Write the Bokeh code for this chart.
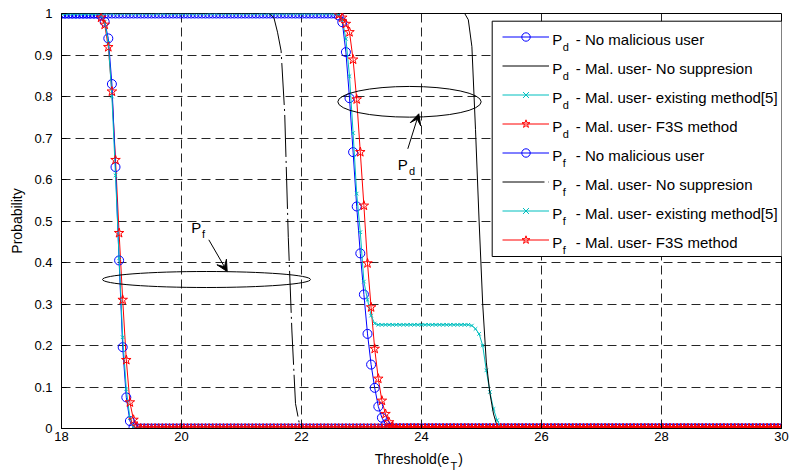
import numpy as np
from bokeh.plotting import figure
from bokeh.models import (Range1d, FixedTicker, CustomJSTickFormatter, Legend, LegendItem,
                          BoxAnnotation, Label, Arrow, VeeHead, ColumnDataSource, CDSView,
                          BooleanFilter, LinearAxis)
from bokeh.embed import file_html
from bokeh.resources import INLINE

# ---------------- data ----------------
X_MIN, X_MAX, N_POINTS = 18.0, 30.0, 201          # threshold sampling grid (step 0.06)
threshold = np.linspace(X_MIN, X_MAX, N_POINTS)

# Probability of detection, P_d
pd_no_malicious = ([1.0] * 77 +
                   [0.995, 0.979, 0.907, 0.796, 0.666, 0.535, 0.422, 0.323, 0.228, 0.154,
                    0.098, 0.053, 0.026, 0.010, 0.002] +
                   [0.0] * 109)
pd_no_suppression = ([1.0] * 113 +
                     [0.985, 0.92, 0.72, 0.50, 0.30, 0.16, 0.085, 0.035, 0.006] +
                     [0.0] * 79)
pd_existing = ([1.0] * 77 +
               [0.997, 0.985, 0.939, 0.849, 0.712, 0.566, 0.473, 0.354, 0.31, 0.272, 0.253] +
               [0.25] * 26 +
               [0.248, 0.24, 0.228, 0.20, 0.14, 0.088, 0.047, 0.02, 0.004] +
               [0.0] * 78)
pd_f3s = ([1.0] * 77 +
          [0.997, 0.99, 0.975, 0.955, 0.889, 0.793, 0.666, 0.537, 0.398, 0.292, 0.192,
           0.12, 0.067, 0.035, 0.015, 0.004] +
          [0.0] * 108)

# Probability of false alarm, P_f
pf_no_malicious = ([1.0] * 11 +
                   [0.995, 0.98, 0.94, 0.83, 0.63, 0.405, 0.196, 0.075, 0.018, 0.003] +
                   [0.0] * 180)
pf_no_suppression = ([1.0] * 58 +
                     [0.998, 0.99, 0.955, 0.91, 0.76, 0.46, 0.235, 0.06, 0.015] +
                     [0.0] * 134)
pf_existing = ([1.0] * 11 +
               [0.995, 0.98, 0.93, 0.80, 0.61, 0.41, 0.22, 0.095, 0.025, 0.004] +
               [0.0] * 180)
pf_f3s = ([1.0] * 11 +
          [0.99, 0.973, 0.919, 0.812, 0.647, 0.471, 0.31, 0.165, 0.063, 0.021, 0.005] +
          [0.0] * 179)

x_ticks = [18, 20, 22, 24, 26, 28, 30]
y_ticks = [0, 0.1, 0.2, 0.3, 0.4, 0.5, 0.6, 0.7, 0.8, 0.9, 1]

legend_subs = ["d", "d", "d", "d", "f", "f", "f", "f"]
legend_texts = ["- No malicious user", "- Mal. user- No suppresion",
                "- Mal. user- existing method[5]", "- Mal. user- F3S method",
                "- No malicious user", "- Mal. user- No suppresion",
                "- Mal. user- existing method[5]", "- Mal. user- F3S method"]

# ---------------- styling ----------------
FONT = "Liberation Sans"
BLUE, BLACK, CYAN, RED = "#0000ff", "#000000", "#00bfbf", "#ff0000"

# frame position in the 791x475 page (used to place annotations)
FR_L, FR_R, FR_T, FR_B = 61.0, 781.0, 13.0, 428.0


def px2x(px):
    return X_MIN + (px - FR_L) * (X_MAX - X_MIN) / (FR_R - FR_L)


def py2y(py):
    return (FR_B - py) / (FR_B - FR_T)


p = figure(width=791, height=475, x_range=Range1d(X_MIN, X_MAX), y_range=Range1d(0, 1),
           output_backend="svg", toolbar_location=None,
           min_border_left=61, min_border_right=10, min_border_top=13, min_border_bottom=47)
p.background_fill_color = "white"
p.border_fill_color = "white"
p.outline_line_color = "black"
p.outline_line_width = 1
p.outline_line_alpha = 1

p.xaxis.ticker = FixedTicker(ticks=x_ticks)
p.yaxis.ticker = FixedTicker(ticks=y_ticks)
p.yaxis.formatter = CustomJSTickFormatter(code="return String(Math.round(tick*10)/10);")
for ax in (p.xaxis, p.yaxis):
    ax.major_tick_in = 5
    ax.major_tick_out = 0
    ax.minor_tick_in = 0
    ax.minor_tick_out = 0
    ax.axis_line_color = "black"
    ax.major_tick_line_color = "black"
    ax.major_label_text_font = FONT
    ax.major_label_text_font_size = "13px"
    ax.major_label_text_color = "black"
p.xaxis.major_label_standoff = 3
p.yaxis.major_label_standoff = 9
p.yaxis.axis_label = "Probability"
p.yaxis.axis_label_text_font = FONT
p.yaxis.axis_label_text_font_size = "14px"
p.yaxis.axis_label_text_font_style = "normal"
p.yaxis.axis_label_text_color = "black"
p.yaxis.axis_label_standoff = 6

for g in (p.xgrid, p.ygrid):
    g.grid_line_color = "black"
    g.grid_line_alpha = 0.85
    g.grid_line_dash = "9 5"
    g.grid_line_width = 1


# x-axis title "Threshold(e_T)": two label-only axes stacked under the main x axis
def label_axis(ticks, texts, size, standoff):
    ax = LinearAxis(ticker=FixedTicker(ticks=ticks),
                    formatter=CustomJSTickFormatter(args=dict(labels=texts),
                                                    code="return labels[index];"))
    ax.axis_line_alpha = 0
    ax.major_tick_line_alpha = 0
    ax.minor_tick_line_alpha = 0
    ax.major_tick_in = 0
    ax.major_tick_out = 0
    ax.minor_tick_in = 0
    ax.minor_tick_out = 0
    ax.major_label_text_font = FONT
    ax.major_label_text_font_size = size
    ax.major_label_text_color = "black"
    ax.major_label_standoff = standoff
    p.add_layout(ax, "below")


label_axis([px2x(411.5), px2x(460.0)], ["Threshold(e", ")"], "14px", 7)
label_axis([px2x(453.3)], ["T"], "11px", -10)


# ---------------- series ----------------
def src(vals):
    return ColumnDataSource(dict(x=threshold, y=vals))


s_pd_nm, s_pd_ns, s_pd_ex, s_pd_f3 = map(src, (pd_no_malicious, pd_no_suppression,
                                               pd_existing, pd_f3s))
s_pf_nm, s_pf_ns, s_pf_ex, s_pf_f3 = map(src, (pf_no_malicious, pf_no_suppression,
                                               pf_existing, pf_f3s))

# red lines beneath everything
r_pd_f3_line = p.line("x", "y", source=s_pd_f3, line_color=RED, line_width=1)
r_pf_f3_line = p.line("x", "y", source=s_pf_f3, line_color=RED, line_width=1)

# blue: no malicious user
r_pd_nm_line = p.line("x", "y", source=s_pd_nm, line_color=BLUE, line_width=1)
r_pd_nm_mk = p.scatter("x", "y", source=s_pd_nm, marker="circle", size=9,
                       line_color=BLUE, fill_alpha=0, line_width=1)
r_pf_nm_line = p.line("x", "y", source=s_pf_nm, line_color=BLUE, line_width=1)
r_pf_nm_mk = p.scatter("x", "y", source=s_pf_nm, marker="circle", size=9,
                       line_color=BLUE, fill_alpha=0, line_width=1)

# cyan: existing method
r_pd_ex_line = p.line("x", "y", source=s_pd_ex, line_color=CYAN, line_width=1)
r_pd_ex_mk = p.scatter("x", "y", source=s_pd_ex, marker="x", size=5,
                       line_color=CYAN, line_width=1)
r_pf_ex_line = p.line("x", "y", source=s_pf_ex, line_color=CYAN, line_width=1)
r_pf_ex_mk = p.scatter("x", "y", source=s_pf_ex, marker="x", size=5,
                       line_color=CYAN, line_width=1)

# black: no suppression
r_pd_ns = p.line("x", "y", source=s_pd_ns, line_color=BLACK, line_width=1)
r_pf_ns = p.line("x", "y", source=s_pf_ns, line_color=BLACK, line_width=1,
                 line_dash="42 4 2 4")

# red stars on top (not visible where the curve sits on the top border)
v_pd = CDSView(filter=BooleanFilter([v < 1.0 for v in pd_f3s]))
v_pf = CDSView(filter=BooleanFilter([v < 1.0 for v in pf_f3s]))
r_pd_f3_mk = p.scatter("x", "y", source=s_pd_f3, view=v_pd, marker="star", size=10,
                       line_color=RED, fill_alpha=0, line_width=1)
r_pf_f3_mk = p.scatter("x", "y", source=s_pf_f3, view=v_pf, marker="star", size=10,
                       line_color=RED, fill_alpha=0, line_width=1)

# ---------------- ellipses, arrows and P_d / P_f callouts ----------------
p.ellipse(x=[px2x(206.0)], y=[py2y(279.0)], width=[208.0 / 60.0], height=[16.0 / 415.0],
          fill_alpha=0, line_color="black", line_width=1)
p.ellipse(x=[px2x(409.0)], y=[py2y(101.3)], width=[143.4 / 60.0], height=[30.7 / 415.0],
          fill_alpha=0, line_color="black", line_width=1)
head = dict(size=11, fill_color="black", line_color="black")
p.add_layout(Arrow(end=VeeHead(**head), x_start=px2x(208.3), y_start=py2y(239.3),
                   x_end=px2x(226.7), y_end=py2y(271.0), line_color="black", line_width=1))
p.add_layout(Arrow(end=VeeHead(**head), x_start=px2x(407.3), y_start=py2y(148.3),
                   x_end=px2x(418.3), y_end=py2y(113.3), line_color="black", line_width=1))


def txt(px, py, text, size, baseline="alphabetic"):
    p.add_layout(Label(x=px2x(px), y=py2y(py), text=text, text_font=FONT,
                       text_font_size=size, text_color="black", text_align="left",
                       text_baseline=baseline))


txt(190.7, 227.0, "P", "15px")
txt(201.5, 233.5, "f", "11px")
txt(397.3, 163.5, "P", "15px")
txt(408.5, 170.0, "d", "11px")

# ---------------- legend ----------------
p.add_layout(BoxAnnotation(left=px2x(491.7), right=px2x(787.0), top=py2y(20.7),
                           bottom=py2y(256.0), fill_color="white", fill_alpha=1,
                           line_color="black", line_width=1, line_alpha=1))
items = [
    LegendItem(label=" ", renderers=[r_pd_nm_line, r_pd_nm_mk]),
    LegendItem(label=" ", renderers=[r_pd_ns]),
    LegendItem(label=" ", renderers=[r_pd_ex_line, r_pd_ex_mk]),
    LegendItem(label=" ", renderers=[r_pd_f3_line, r_pd_f3_mk]),
    LegendItem(label=" ", renderers=[r_pf_nm_line, r_pf_nm_mk]),
    LegendItem(label=" ", renderers=[r_pf_ns]),
    LegendItem(label=" ", renderers=[r_pf_ex_line, r_pf_ex_mk]),
    LegendItem(label=" ", renderers=[r_pf_f3_line, r_pf_f3_mk]),
]
legend = Legend(items=items, location=(440.7, 178.2), glyph_width=47, glyph_height=21,
                spacing=8, padding=0, margin=0, label_standoff=0, label_height=10,
                label_width=1, label_text_font_size="6px",
                border_line_alpha=0, background_fill_alpha=0)
p.add_layout(legend)

for i, (sub, rest) in enumerate(zip(legend_subs, legend_texts)):
    base = 39.3 + 28.9 * i
    txt(551.7, base, "P", "15px")
    txt(562.3, base + 7.4, sub, "11px")
    txt(575.3, base, rest, "15px")

open("out.html", "w").write(file_html(p, INLINE))
